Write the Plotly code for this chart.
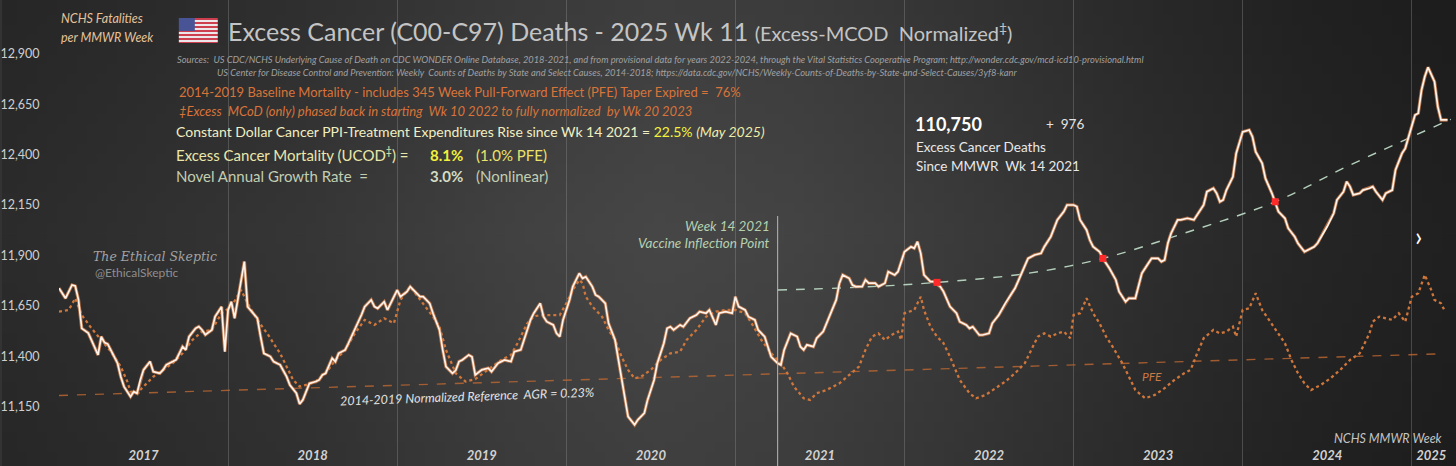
import base64
import struct
import zlib
import numpy as np
import plotly.graph_objects as go


# --------------------
# Data (weeks counted from MMWR week 1 of 2017)
# --------------------
actual_week = [
    0, 2, 4, 5, 6, 7, 9, 11, 12, 13, 14, 15, 17, 18, 19, 20, 22, 23, 24, 25,
    26, 28, 29, 31, 32, 33, 35, 36, 37, 38, 39, 40, 42, 43, 44, 45, 47, 48, 50, 51,
    52, 53, 54, 55, 57, 58, 60, 61, 62, 63, 65, 66, 67, 68, 70, 71, 73, 74, 75, 76,
    77, 79, 80, 81, 82, 84, 85, 86, 88, 89, 91, 93, 94, 96, 97, 98, 100, 101, 103, 104,
    105, 107, 108, 109, 111, 112, 114, 115, 117, 118, 119, 121, 122, 123, 124, 126, 127, 128, 130, 132,
    133, 135, 137, 139, 140, 142, 143, 145, 146, 148, 149, 150, 152, 153, 154, 155, 157, 158, 160, 161,
    162, 164, 165, 166, 168, 169, 171, 172, 173, 174, 175, 177, 178, 180, 181, 183, 184, 186, 187, 188,
    189, 191, 192, 194, 196, 197, 199, 200, 201, 202, 203, 205, 207, 208, 209, 211, 212, 214, 215, 217,
    218, 219, 221, 222, 223, 225, 227, 228, 229, 230, 232, 233, 235, 237, 239, 240, 241, 243, 244, 245,
    247, 248, 249, 251, 252, 254, 255, 257, 258, 260, 262, 263, 264, 265, 266, 268, 269, 271, 272, 274,
    276, 277, 279, 280, 281, 283, 284, 286, 287, 289, 291, 293, 294, 296, 297, 298, 300, 302, 303, 305,
    307, 309, 310, 312, 313, 314, 316, 317, 318, 320, 321, 323, 325, 326, 328, 329, 331, 332, 333, 335,
    336, 338, 339, 340, 341, 342, 344, 345, 347, 349, 350, 352, 353, 355, 356, 357, 358, 359, 361, 362,
    364, 366, 367, 368, 370, 371, 373, 374, 375, 377, 378, 380, 381, 383, 384, 386, 387, 389, 390, 392,
    393, 395, 396, 397, 398, 400, 401, 403, 404, 405, 407, 408, 410, 411, 413, 414, 416, 417, 418, 419,
    420, 421, 423, 424, 425, 427,
]
actual_deaths = [
    11737, 11687, 11753, 11748, 11679, 11538, 11515, 11447, 11406, 11497, 11467, 11460, 11398, 11365, 11298, 11249, 11199, 11224, 11216, 11282,
    11332, 11373, 11323, 11315, 11332, 11357, 11373, 11382, 11414, 11447, 11431, 11497, 11538, 11547, 11530, 11506, 11530, 11596, 11645, 11422,
    11629, 11670, 11588, 11679, 11869, 11645, 11604, 11588, 11497, 11414, 11398, 11373, 11365, 11357, 11298, 11257, 11216, 11163, 11183, 11224,
    11265, 11274, 11282, 11307, 11315, 11390, 11373, 11414, 11431, 11464, 11530, 11604, 11645, 11679, 11646, 11637, 11670, 11629, 11695, 11728,
    11695, 11720, 11745, 11728, 11695, 11695, 11662, 11613, 11530, 11431, 11348, 11315, 11330, 11373, 11381, 11406, 11397, 11307, 11332, 11340,
    11323, 11365, 11381, 11373, 11422, 11431, 11480, 11580, 11613, 11662, 11596, 11571, 11555, 11513, 11497, 11580, 11679, 11745, 11811, 11786,
    11794, 11745, 11704, 11695, 11662, 11563, 11480, 11381, 11282, 11183, 11100, 11059, 11084, 11117, 11183, 11282, 11365, 11464, 11538, 11546,
    11530, 11555, 11546, 11588, 11604, 11621, 11613, 11629, 11596, 11555, 11613, 11621, 11613, 11695, 11646, 11629, 11596, 11580, 11530, 11497,
    11447, 11397, 11365, 11356, 11431, 11513, 11497, 11447, 11431, 11456, 11447, 11489, 11522, 11596, 11679, 11762, 11803, 11786, 11753, 11745,
    11745, 11778, 11762, 11762, 11745, 11762, 11819, 11803, 11819, 11918, 11943, 11935, 11968, 11910, 11803, 11770, 11770, 11745, 11720, 11646,
    11613, 11571, 11555, 11538, 11546, 11505, 11505, 11513, 11563, 11604, 11662, 11712, 11737, 11811, 11844, 11885, 11902, 11910, 11943, 11993,
    12076, 12117, 12150, 12150, 12142, 12076, 12026, 11976, 11943, 11918, 11885, 11836, 11778, 11720, 11670, 11687, 11687, 11745, 11811, 11861,
    11885, 11885, 11869, 11877, 11960, 12010, 12076, 12076, 12084, 12076, 12100, 12150, 12216, 12233, 12208, 12166, 12175, 12224, 12290, 12406,
    12513, 12522, 12489, 12414, 12357, 12282, 12208, 12166, 12117, 12084, 12035, 11993, 11960, 11918, 11927, 11943, 11960, 12018, 12043, 12109,
    12175, 12216, 12266, 12241, 12200, 12208, 12224, 12233, 12241, 12216, 12175, 12208, 12224, 12324, 12406, 12431, 12538, 12596, 12605, 12720,
    12786, 12833, 12762, 12638, 12572, 12572,
]

baseline_week = [
    0, 3, 5, 7, 10, 13, 16, 19, 21, 22, 24, 26, 29, 32, 35, 38, 41, 44, 47, 50,
    53, 56, 58, 61, 64, 68, 70, 72, 74, 76, 79, 82, 85, 88, 91, 94, 97, 100, 103, 105,
    108, 112, 115, 117, 119, 122, 125, 128, 132, 136, 139, 141, 144, 146, 148, 152, 154, 156, 158, 160,
    161, 162, 164, 167, 169, 171, 173, 175, 177, 179, 182, 185, 188, 191, 193, 196, 199, 202, 205, 208,
    211, 213, 216, 219, 222, 224, 226, 229, 231, 233, 236, 240, 243, 246, 248, 250, 252, 254, 256, 258,
    259, 260, 263, 265, 266, 268, 270, 272, 274, 277, 280, 282, 285, 288, 291, 294, 297, 299, 301, 303,
    305, 307, 309, 311, 312, 314, 316, 318, 320, 322, 324, 327, 329, 331, 334, 337, 340, 343, 346, 348,
    350, 352, 355, 357, 359, 361, 362, 364, 366, 368, 370, 372, 375, 377, 379, 381, 383, 385, 388, 391,
    394, 397, 400, 403, 404, 406, 408, 410, 412, 414, 416, 418, 420, 422, 423, 425, 426,
]
baseline_deaths = [
    11621, 11629, 11687, 11604, 11538, 11480, 11422, 11348, 11274, 11224, 11216, 11249, 11298, 11332, 11365, 11414, 11480, 11522, 11530, 11613,
    11646, 11728, 11662, 11580, 11513, 11414, 11348, 11282, 11249, 11257, 11274, 11315, 11381, 11431, 11513, 11580, 11555, 11588, 11563, 11679,
    11745, 11662, 11596, 11546, 11431, 11315, 11274, 11286, 11332, 11381, 11406, 11464, 11563, 11596, 11604, 11604, 11604, 11662, 11728, 11778,
    11762, 11695, 11646, 11596, 11530, 11480, 11397, 11332, 11290, 11298, 11332, 11381, 11414, 11422, 11480, 11530, 11596, 11621, 11629, 11629,
    11613, 11563, 11480, 11414, 11365, 11315, 11249, 11191, 11183, 11216, 11232, 11265, 11307, 11348, 11431, 11497, 11513, 11480, 11505, 11522,
    11480, 11613, 11629, 11695, 11629, 11546, 11497, 11464, 11397, 11282, 11216, 11191, 11208, 11241, 11274, 11315, 11365, 11431, 11497, 11513,
    11497, 11513, 11522, 11489, 11604, 11613, 11687, 11613, 11563, 11497, 11447, 11365, 11298, 11232, 11191, 11208, 11241, 11282, 11315, 11332,
    11414, 11489, 11530, 11513, 11522, 11546, 11497, 11629, 11637, 11712, 11629, 11580, 11513, 11464, 11381, 11315, 11265, 11232, 11257, 11290,
    11332, 11381, 11414, 11513, 11571, 11596, 11588, 11580, 11613, 11571, 11695, 11712, 11803, 11728, 11679, 11662, 11629,
]

reference_week = [0, 426]
reference_deaths = [11205, 11412]

trend_week = [221, 246, 270, 298, 321, 346, 374, 397, 428]
trend_deaths = [11728, 11742, 11766, 11811, 11885, 12010, 12166, 12348, 12575]

cross_week = [270, 321, 374]
cross_deaths = [11766, 11885, 12166]

inflection_week = 221

year_start_week = [0, 52, 104, 156, 208, 260, 312, 364, 416]
year_label_week = [26, 78, 130, 182, 234, 286, 338, 390, 422]
year_labels = ["2017", "2018", "2019", "2020", "2021", "2022", "2023", "2024", "2025"]

y_ticks = [10900, 11150, 11400, 11650, 11900, 12150, 12400, 12650, 12900]


# --------------------
# Page geometry
# --------------------
W, H = 1456, 466
PLOT_L = 57
PW = W - PLOT_L
FONT = "Lato"


def px(x):
    return (x - PLOT_L) / PW


def py(y):
    return 1 - y / H


def png_uri(pixels):
    h, w, _ = pixels.shape
    raw = b"".join(b"\x00" + pixels[r].tobytes() for r in range(h))

    def chunk(tag, body):
        return (struct.pack(">I", len(body)) + tag + body
                + struct.pack(">I", zlib.crc32(tag + body) & 0xFFFFFFFF))

    png = (b"\x89PNG\r\n\x1a\n"
           + chunk(b"IHDR", struct.pack(">IIBBBBB", w, h, 8, 2, 0, 0, 0))
           + chunk(b"IDAT", zlib.compress(raw, 9))
           + chunk(b"IEND", b""))
    return "data:image/png;base64," + base64.b64encode(png).decode()


# dark spotlight background
gx = np.linspace(0, 1, 146)
gy = np.linspace(0, 1, 47)
h_prof = np.interp(gx, [0, .2, .35, .45, .55, .65, .8, .9, 1],
                   [44, 54, 66, 71, 68, 60, 46, 38, 33])
v_prof = np.interp(gy, [0, .5, 1], [.88, 1, .9])
shade = np.clip(v_prof[:, None] * h_prof[None, :], 0, 255).astype(np.uint8)
bg_uri = png_uri(np.stack([shade] * 3, axis=-1))

# small US flag
flag = np.zeros((25, 39, 3), dtype=np.uint8)
for r in range(25):
    stripe = int(r * 13 / 25)
    flag[r, :] = (205, 62, 78) if stripe % 2 == 0 else (236, 230, 234)
flag[:13, :16] = (72, 84, 150)
flag_uri = png_uri(flag)


# --------------------
# Traces
# --------------------
fig = go.Figure()

fig.add_trace(go.Scatter(
    x=reference_week, y=reference_deaths, mode="lines",
    line=dict(color="rgba(190,104,50,0.8)", width=1.4, dash="dash"),
))
fig.add_trace(go.Scatter(
    x=baseline_week, y=baseline_deaths, mode="lines",
    line=dict(color="#cf763b", width=2.3, dash="dot"),
))
fig.add_trace(go.Scatter(
    x=trend_week, y=trend_deaths, mode="lines", line_shape="spline",
    line=dict(color="#b4d0bc", width=1.4, dash="dash"),
))
fig.add_trace(go.Scatter(
    x=actual_week, y=actual_deaths, mode="lines",
    line=dict(color="rgba(214,128,76,0.75)", width=3.4),
))
fig.add_trace(go.Scatter(
    x=actual_week, y=actual_deaths, mode="lines",
    line=dict(color="#fff3ea", width=1.7),
))
fig.add_trace(go.Scatter(
    x=cross_week, y=cross_deaths, mode="markers",
    marker=dict(color="#ff2a2a", size=7, symbol="square"),
))

fig.add_vline(x=inflection_week, y0=0, y1=py(216),
              line=dict(color="#b8b8b8", width=1))


# --------------------
# Text
# --------------------
def note(text, x, y, size, color, anchor="left", family=FONT, angle=0):
    fig.add_annotation(
        text=text, x=px(x), y=py(y), xref="paper", yref="paper",
        xanchor=anchor, yanchor="middle", showarrow=False, textangle=angle,
        font=dict(size=size, color=color, family=family),
    )


note("<i>NCHS Fatalities</i>", 57, 18, 12.5, "#e6c29a")
note("<i>per MMWR Week</i>", 57, 38, 12.5, "#e6c29a")
note("Excess Cancer (C00-C97) Deaths - 2025 Wk 11 "
     "<span style='font-size:20px'>(Excess-MCOD  Normalized<sup>‡</sup>)</span>",
     224, 31, 25, "#c4c4c4")
note("<i>Sources:  US CDC/NCHS Underlying Cause of Death on CDC WONDER Online Database, 2018-2021, "
     "and from provisional data for years 2022-2024, through the Vital Statistics Cooperative Program; "
     "http://wonder.cdc.gov/mcd-icd10-provisional.html</i>", 173, 60, 9.3, "#a0a0a0")
note("<i>US Center for Disease Control and Prevention: Weekly  Counts of Deaths by State and Select Causes, "
     "2014-2018; https://data.cdc.gov/NCHS/Weekly-Counts-of-Deaths-by-State-and-Select-Causes/3yf8-kanr</i>",
     213, 72, 9.3, "#a0a0a0")
note("2014-2019 Baseline Mortality - includes 345 Week Pull-Forward Effect (PFE) Taper Expired =  76%",
     175, 92, 13, "#d8743a")
note("<i>‡Excess  MCoD (only) phased back in starting  Wk 10 2022 to fully normalized  by Wk 20 2023</i>",
     175, 111, 13, "#d8743a")
note("Constant Dollar Cancer PPI-Treatment Expenditures Rise since Wk 14 2021 = "
     "<span style='color:#f6f23c'>22.5%</span> <span style='color:#efeca8'><i>(May 2025)</i></span>",
     172, 131, 14, "#f0efc2")
note("Excess Cancer Mortality (UCOD<sup>‡</sup>) =", 172, 155, 15, "#e9e7aa")
note("<b>8.1%</b>", 427, 155, 15, "#f2f03c")
note("(1.0% PFE)", 473, 155, 15, "#ebe36a")
note("Novel Annual Growth Rate  =", 172, 176, 15, "#c2ceb2")
note("<b>3.0%</b>", 427, 176, 15, "#d4dcc4")
note("(Nonlinear)", 473, 176, 15, "#c2ceb2")

note("<b>110,750</b>", 912, 124, 18, "#ffffff")
note("+  976", 1043, 124, 13.5, "#e4e4e4")
note("Excess Cancer Deaths", 913, 147, 13.5, "#e8e8e8")
note("Since MMWR  Wk 14 2021", 913, 166, 13.5, "#e8e8e8")

note("<i>The Ethical Skeptic</i>", 89, 256, 12.5, "#a2a2a2", family="DejaVu Serif")
note("@EthicalSkeptic", 91, 272, 12, "#8e8e8e")

note("<i>Week 14 2021</i>", 771, 226, 13.5, "#b6d0b0", anchor="right")
note("<i>Vaccine Inflection Point</i>", 771, 243, 13.5, "#b6d0b0", anchor="right")
note("<i>2014-2019 Normalized Reference  AGR = 0.23%</i>", 336, 396, 12.5, "#e2e2e2", angle=-2)
note("<i>PFE</i>", 1140, 376, 12, "#c87a45")
note("<i>NCHS MMWR Week</i>", 1445, 438, 12.5, "#c4c4c4", anchor="right")
note("›", 1418, 236, 26, "#ffffff", anchor="center")


# --------------------
# Layout
# --------------------
fig.add_layout_image(
    source=bg_uri, xref="paper", yref="paper", x=px(0), y=1,
    sizex=W / PW, sizey=1, xanchor="left", yanchor="top",
    sizing="stretch", layer="below",
)
fig.add_layout_image(
    source=flag_uri, xref="paper", yref="paper", x=px(177), y=py(18),
    sizex=39 / PW, sizey=25 / H, xanchor="left", yanchor="top",
    sizing="stretch", layer="above",
)

fig.update_layout(
    width=W,
    height=H,
    margin=dict(l=PLOT_L, r=0, t=0, b=0),
    paper_bgcolor="#333333",
    plot_bgcolor="rgba(0,0,0,0)",
    showlegend=False,
    xaxis=dict(
        range=[0, PW / 3.2565],
        tickmode="array",
        tickvals=year_label_week,
        ticktext=[f"<b><i>{t}</i></b>" for t in year_labels],
        ticklabelposition="inside",
        ticks="",
        showgrid=False,
        zeroline=False,
        showline=False,
        tickfont=dict(size=13, color="#d2d2d2", family=FONT),
        minor=dict(tickmode="array", tickvals=year_start_week, showgrid=True,
                   gridcolor="rgba(150,150,150,0.35)", gridwidth=1, ticks=""),
    ),
    yaxis=dict(
        range=[10855, 13167],
        tickmode="array",
        tickvals=y_ticks,
        tickformat=",",
        ticks="outside",
        ticklen=16,
        tickcolor="rgba(0,0,0,0)",
        showgrid=False,
        zeroline=False,
        showline=False,
        tickfont=dict(size=12.5, color="#cfcfcf", family=FONT),
    ),
)

fig.write_html(
    "out.html",
    config={"displayModeBar": False},
    post_script="document.body.style.margin='0px';document.body.style.overflow='hidden';",
)
